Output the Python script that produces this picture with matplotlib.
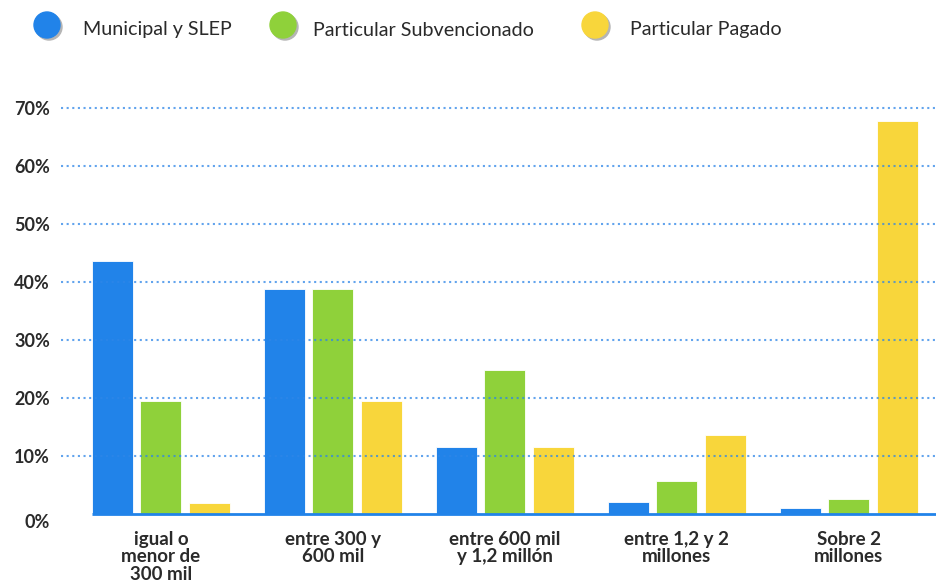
import numpy as np
import matplotlib.pyplot as plt
from matplotlib.patches import Circle

categories = ["igual o\nmenor de\n300 mil", "entre 300 y\n600 mil", "entre 600 mil\ny 1,2 millón",
              "entre 1,2 y 2\nmillones", "Sobre 2\nmillones"]
series_names = ["Municipal y SLEP", "Particular Subvencionado", "Particular Pagado"]
municipal = [43.6, 38.8, 11.6, 2.1, 1.0]
subvencionado = [19.5, 38.8, 24.8, 5.7, 2.6]
pagado = [1.9, 19.5, 11.6, 13.6, 67.8]
yticks = [0, 10, 20, 30, 40, 50, 60, 70]

colors = ["#2183E9", "#8FD13A", "#F8D63B"]
text_color = "#2a2a2a"

fig = plt.figure(figsize=(9.37, 5.85), dpi=100)
W, H = 937, 585
ax = fig.add_axes([61 / W, (H - 514) / H, (937 - 61) / W, (514 - 96.4) / H])

x = np.arange(len(categories))
step = 0.282
width = 0.238
for i, (vals, c) in enumerate(zip([municipal, subvencionado, pagado], colors)):
    ax.bar(x + (i - 1) * step, vals, width, color=c, edgecolor="white", linewidth=0.6, zorder=2)

ax.set_xlim(-0.581, 4.512)
ax.set_ylim(0, 72)

# dotted horizontal grid drawn over the bars
for t in yticks[1:]:
    ax.axhline(t, color="#2E86E8", lw=1.5, ls=(0, (1, 1.7)), alpha=0.75, zorder=3)
ax.hlines(0, -0.4, 4.6, color="#2183E9", lw=2, zorder=4, clip_on=False)

for s in ax.spines.values():
    s.set_visible(False)
ax.set_yticks(yticks)
ax.set_yticklabels([f"{t}%" for t in yticks], fontfamily="Lato", fontweight="bold",
                   fontsize=13, color=text_color)
ax.tick_params(axis="y", length=0, pad=8)
for lbl in ax.get_yticklabels():
    if lbl.get_text() == "0%":
        lbl.set_va("top")
        lbl.set_y(-0.4)
ax.set_xticks(x)
ax.set_xticklabels(categories, fontfamily="Lato", fontweight="bold", fontsize=13.5,
                   color=text_color, linespacing=1.05)
ax.tick_params(axis="x", length=0, pad=12)

# legend row across the top
lax = fig.add_axes([0, 0, 1, 1])
lax.set_xlim(0, W)
lax.set_ylim(H, 0)
lax.axis("off")
for cx, tx, name, c in zip([47, 283, 595], [83, 313, 630], series_names, colors):
    lax.add_patch(Circle((cx + 2, 27), 13, color="#b5b5b5", zorder=1))
    lax.add_patch(Circle((cx, 25), 13, color=c, zorder=2))
    lax.text(tx, 30, name, fontfamily="Lato", fontsize=14.2, color=text_color, va="center", ha="left")

fig.savefig("out.png", dpi=100)
